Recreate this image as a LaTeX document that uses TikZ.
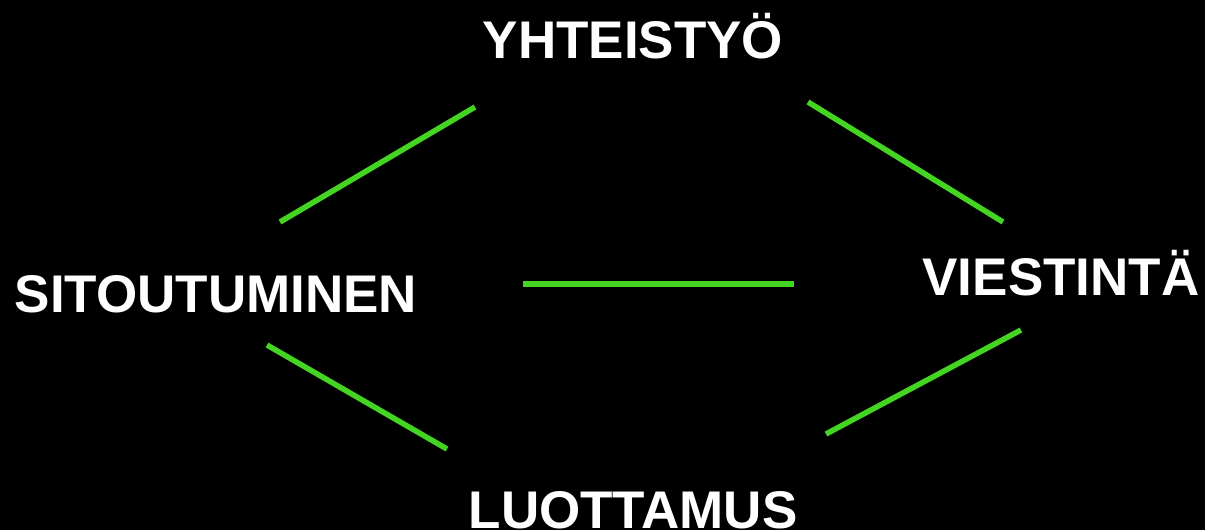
\documentclass[tikz,border=0pt]{standalone}
\usepackage{fontspec}
\setmainfont{Liberation Sans}
\definecolor{linegreen}{HTML}{44D422}
\begin{document}
\begin{tikzpicture}[x=1pt,y=-1pt,
  lbl/.style={text=white,font=\fontsize{53}{60}\selectfont\bfseries,inner sep=0pt,anchor=base},
  conn/.style={draw=linegreen,line width=5.5pt}]
\fill[black] (0,0) rectangle (1205,530);
\useasboundingbox (0,0) rectangle (1205,530);
\node[lbl] (yht) at (633,58) {YHTEISTYÖ};
\node[lbl] (sit) at (216,312) {SITOUTUMINEN};
\node[lbl] (vie) at (1061,295) {VIESTINTÄ};
\node[lbl] (luo) at (633,528) {LUOTTAMUS};
\coordinate (a1) at (475,107);
\coordinate (a2) at (280,222);
\coordinate (b1) at (808,102);
\coordinate (b2) at (1003,222);
\coordinate (c1) at (523,284);
\coordinate (c2) at (794,284);
\coordinate (d1) at (267,345);
\coordinate (d2) at (447,449);
\coordinate (e1) at (1021,330);
\coordinate (e2) at (826,434);
\draw[conn] (a1) -- (a2);
\draw[conn] (b1) -- (b2);
\draw[conn] (c1) -- (c2);
\draw[conn] (d1) -- (d2);
\draw[conn] (e1) -- (e2);
\end{tikzpicture}
\end{document}
